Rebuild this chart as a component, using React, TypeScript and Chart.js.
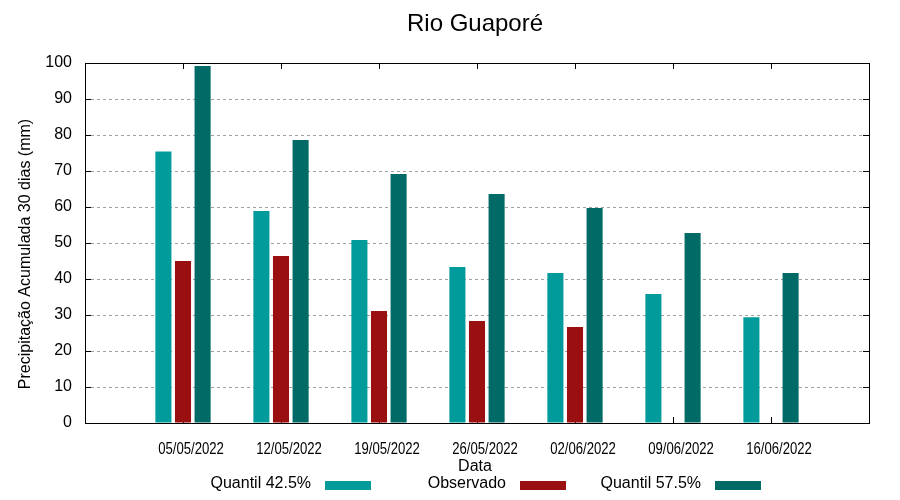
import React, { useEffect, useRef } from 'react';
import { Chart, registerables } from 'chart.js';

Chart.register(...registerables);

const chartTitle = 'Rio Guaporé';
const xAxisTitle = 'Data';
const yAxisTitle = 'Precipitação Acumulada 30 dias (mm)';
const dates = ['05/05/2022', '12/05/2022', '19/05/2022', '26/05/2022', '02/06/2022', '09/06/2022', '16/06/2022'];
const quantil425 = [75.4, 58.9, 50.8, 43.3, 41.7, 35.8, 29.4];
const observado: (number | null)[] = [45.0, 46.4, 31.1, 28.3, 26.7, null, null];
const quantil575 = [99.2, 78.6, 69.2, 63.6, 59.7, 52.8, 41.7];
const seriesNames = ['Quantil 42.5%', 'Observado', 'Quantil 57.5%'];
const seriesColors = ['#009b9a', '#9a1010', '#006a66'];
const yMin = 0;
const yMax = 100;
const yStep = 10;

const FONT = "'Liberation Sans', Arial, sans-serif";

const pad = (arr: (number | null)[]) => [null, ...arr, null];

const decorPlugin = {
  id: 'decor',
  beforeDatasetsDraw(chart: any) {
    const { ctx, chartArea: a, scales } = chart;
    const y = scales.y;
    const x = scales.x;
    ctx.save();
    ctx.strokeStyle = '#000';
    ctx.lineWidth = 1;
    ctx.beginPath();
    for (let v = yMin; v <= yMax; v += yStep) {
      const py = Math.round(y.getPixelForValue(v)) + 0.5;
      ctx.moveTo(a.left, py);
      ctx.lineTo(a.left + 6, py);
      ctx.moveTo(a.right, py);
      ctx.lineTo(a.right - 6, py);
    }
    for (let i = 1; i <= dates.length; i++) {
      const px = Math.round(x.getPixelForValue(i)) + 0.5;
      ctx.moveTo(px, a.bottom);
      ctx.lineTo(px, a.bottom - 6);
      ctx.moveTo(px, a.top);
      ctx.lineTo(px, a.top + 6);
    }
    ctx.stroke();
    ctx.restore();
  },
  afterDatasetsDraw(chart: any) {
    const { ctx, chartArea: a } = chart;
    ctx.save();
    ctx.strokeStyle = '#000';
    ctx.lineWidth = 1;
    ctx.strokeRect(Math.round(a.left) + 0.5, Math.round(a.top) + 0.5, Math.round(a.right - a.left), Math.round(a.bottom - a.top));
    ctx.restore();
  },
  afterDraw(chart: any) {
    const { ctx, scales } = chart;
    ctx.save();
    ctx.fillStyle = '#000';
    ctx.textBaseline = 'middle';
    // condensed x tick labels
    ctx.font = `16px ${FONT}`;
    ctx.textAlign = 'center';
    dates.forEach((d, i) => {
      const px = scales.x.getPixelForValue(i + 1) + 8;
      ctx.save();
      ctx.translate(px, 450);
      ctx.scale(0.82, 1);
      ctx.fillText(d, 0, 0);
      ctx.restore();
    });
    // title
    ctx.font = `24px ${FONT}`;
    ctx.fillText(chartTitle, 475, 24);
    // x axis title
    ctx.font = `16px ${FONT}`;
    ctx.fillText(xAxisTitle, 475, 467);
    // y axis title
    ctx.save();
    ctx.translate(26, 254);
    ctx.rotate(-Math.PI / 2);
    ctx.fillText(yAxisTitle, 0, 0);
    ctx.restore();
    // legend
    ctx.textAlign = 'right';
    for (let i = 0; i < seriesNames.length; i++) {
      const textRight = 311 + i * 195;
      ctx.fillStyle = '#000';
      ctx.fillText(seriesNames[i], textRight, 484);
      ctx.fillStyle = seriesColors[i];
      ctx.fillRect(textRight + 14, 481, 46, 9);
    }
    ctx.restore();
  },
};

export default function App() {
  const canvasRef = useRef<HTMLCanvasElement | null>(null);

  useEffect(() => {
    const canvas = canvasRef.current;
    if (!canvas) return;
    const data = [quantil425, observado, quantil575];
    const chart = new Chart(canvas, {
      type: 'bar',
      data: {
        labels: ['', ...dates, ''],
        datasets: seriesNames.map((name, i) => ({
          label: name,
          data: pad(data[i]),
          backgroundColor: seriesColors[i],
          borderWidth: 0,
          categoryPercentage: 0.6,
          barPercentage: 0.82,
        })),
      },
      options: {
        responsive: false,
        animation: false,
        devicePixelRatio: 1,
        events: [],
        layout: { padding: { top: 63, right: 31, left: 0, bottom: 0 } },
        plugins: {
          legend: { display: false },
          title: { display: false },
          tooltip: { enabled: false },
        },
        scales: {
          x: {
            type: 'category',
            offset: false,
            grid: { display: false, drawTicks: false },
            border: { display: false },
            ticks: { display: false, autoSkip: false },
            afterFit(scale: any) {
              scale.height = 77;
            },
          },
          y: {
            min: yMin,
            max: yMax,
            grid: { color: '#a0a0a0', lineWidth: 1, drawTicks: false },
            border: { display: false, dash: [3, 3] },
            ticks: {
              stepSize: yStep,
              padding: 13,
              color: '#000',
              font: { family: FONT, size: 16 },
            },
            afterFit(scale: any) {
              scale.width = 85;
            },
          },
        },
      },
      plugins: [decorPlugin],
    });
    return () => chart.destroy();
  }, []);

  return (
    <div style={{ position: 'absolute', left: 0, top: 0, width: 900, height: 500, background: '#fff' }}>
      <canvas ref={canvasRef} width={900} height={500} />
    </div>
  );
}
